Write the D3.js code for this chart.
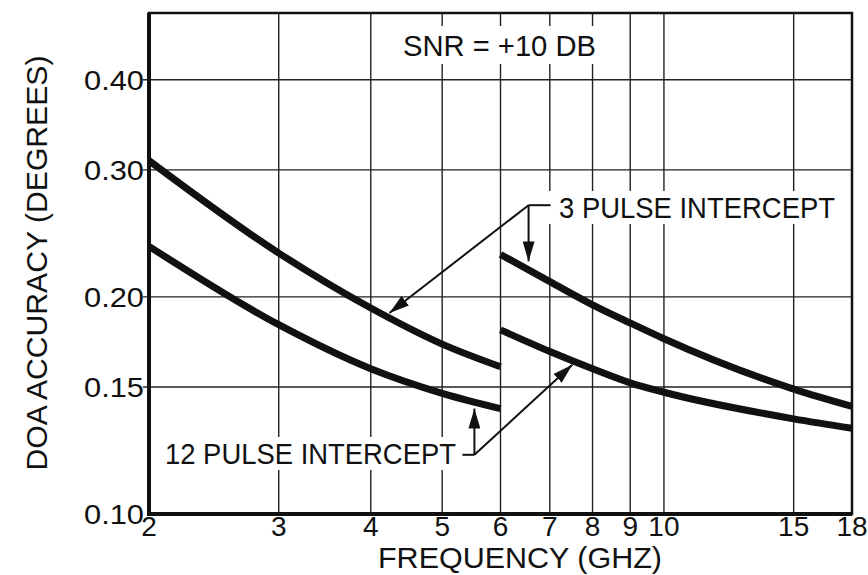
<!DOCTYPE html>
<html>
<head>
<meta charset="utf-8">
<script src="https://cdn.jsdelivr.net/npm/d3@7"></script>
<style>
  body { margin: 0; background: #fff; }
  svg text { font-family: "Liberation Sans", "DejaVu Sans", sans-serif; fill: #111; }
</style>
</head>
<body>
<svg id="chart"></svg>
<script>
// values (log-log axes)
const xTicks = [2, 3, 4, 5, 6, 7, 8, 9, 10, 15, 18];
const yTicks = [0.10, 0.15, 0.20, 0.30, 0.40];
const yTickLabels = ['0.10', '0.15', '0.20', '0.30', '0.40'];

const freqLow = [2, 3, 4, 5, 6];
const pulse3Low = [0.309, 0.230, 0.193, 0.172, 0.160];
const pulse12Low = [0.235, 0.183, 0.159, 0.147, 0.140];

const freqHigh = [6, 7, 8, 9, 10, 15, 18];
const pulse3High = [0.229, 0.210, 0.195, 0.184, 0.175, 0.149, 0.141];
const pulse12High = [0.180, 0.168, 0.159, 0.152, 0.1475, 0.1355, 0.1315];

// annotation anchors in data units
const label3 = { text: '3 PULSE INTERCEPT', elbow: [6.55, 0.268], tips: [[4.24, 0.190], [6.55, 0.224]] };
const label12 = { text: '12 PULSE INTERCEPT', elbow: [5.53, 0.1208], tips: [[5.53, 0.140], [7.51, 0.161]] };

const W = 868, H = 575;
const svg = d3.select('#chart').attr('width', W).attr('height', H);

const x = d3.scaleLog().domain([2, 18]).range([149, 852]);
const y = d3.scaleLog().domain([0.1, 0.495]).range([514, 13]);

// arrowhead marker
svg.append('defs').append('marker')
    .attr('id', 'arrow')
    .attr('viewBox', '0 -6 20 12')
    .attr('refX', 20)
    .attr('refY', 0)
    .attr('markerUnits', 'userSpaceOnUse')
    .attr('markerWidth', 20)
    .attr('markerHeight', 12)
    .attr('orient', 'auto')
    .append('path')
    .attr('d', 'M0,-6 L20,0 L0,6 Z')
    .attr('fill', '#111');

// grid
const grid = svg.append('g').attr('stroke', '#222').attr('stroke-width', 1.4);
grid.selectAll('line.v')
    .data(xTicks.slice(1, -1))
    .enter().append('line')
    .attr('x1', d => x(d)).attr('x2', d => x(d))
    .attr('y1', y.range()[0]).attr('y2', y.range()[1]);
grid.selectAll('line.h')
    .data(yTicks.slice(1))
    .enter().append('line')
    .attr('y1', d => y(d)).attr('y2', d => y(d))
    .attr('x1', x.range()[0] - 6).attr('x2', x.range()[1]);

// frame: heavier left and bottom edges
svg.append('rect')
    .attr('x', x.range()[0]).attr('y', y.range()[1])
    .attr('width', x.range()[1] - x.range()[0])
    .attr('height', y.range()[0] - y.range()[1])
    .attr('fill', 'none').attr('stroke', '#111').attr('stroke-width', 2.5);
svg.append('path')
    .attr('d', `M${x.range()[0]},${y.range()[1]} V${y.range()[0]} H${x.range()[1]}`)
    .attr('fill', 'none').attr('stroke', '#111').attr('stroke-width', 4);

// white boxes that break the grid behind the labels
function box(x0, y0, x1, y1) {
    svg.append('rect')
        .attr('x', x0).attr('y', y0)
        .attr('width', x1 - x0).attr('height', y1 - y0)
        .attr('fill', '#fff');
}
box(396, 26, 602, 64);
box(548, 191, 842, 224);
box(158, 437, 464, 470);

// curves
const line = d3.line()
    .x(d => x(d[0]))
    .y(d => y(d[1]))
    .curve(d3.curveMonotoneX);

const curves = [
    d3.zip(freqLow, pulse3Low),
    d3.zip(freqLow, pulse12Low),
    d3.zip(freqHigh, pulse3High),
    d3.zip(freqHigh, pulse12High)
];
svg.append('g').selectAll('path')
    .data(curves)
    .enter().append('path')
    .attr('d', line)
    .attr('fill', 'none')
    .attr('stroke', '#111')
    .attr('stroke-width', 7);

// leader lines with arrows
[label3, label12].forEach(lab => {
    const ex = x(lab.elbow[0]), ey = y(lab.elbow[1]);
    lab.tips.forEach(t => {
        svg.append('line')
            .attr('x1', ex).attr('y1', ey)
            .attr('x2', x(t[0])).attr('y2', y(t[1]))
            .attr('stroke', '#111').attr('stroke-width', 2)
            .attr('marker-end', 'url(#arrow)');
    });
});
// short horizontal stubs into the labels
svg.append('line')
    .attr('x1', x(label3.elbow[0])).attr('x2', x(label3.elbow[0]) + 22)
    .attr('y1', y(label3.elbow[1])).attr('y2', y(label3.elbow[1]))
    .attr('stroke', '#111').attr('stroke-width', 2);
svg.append('line')
    .attr('x1', x(label12.elbow[0]) - 12).attr('x2', x(label12.elbow[0]))
    .attr('y1', y(label12.elbow[1])).attr('y2', y(label12.elbow[1]))
    .attr('stroke', '#111').attr('stroke-width', 2);

// annotation text
svg.append('text')
    .attr('x', 403).attr('y', 56)
    .attr('font-size', 30)
    .attr('textLength', 193).attr('lengthAdjust', 'spacingAndGlyphs')
    .text('SNR = +10 DB');
svg.append('text')
    .attr('x', 559).attr('y', 218)
    .attr('font-size', 29)
    .attr('textLength', 276).attr('lengthAdjust', 'spacingAndGlyphs')
    .text(label3.text);
svg.append('text')
    .attr('x', 165).attr('y', 464)
    .attr('font-size', 29)
    .attr('textLength', 291).attr('lengthAdjust', 'spacingAndGlyphs')
    .text(label12.text);

// tick labels
svg.append('g').selectAll('text')
    .data(xTicks)
    .enter().append('text')
    .attr('x', d => x(d))
    .attr('y', 536)
    .attr('text-anchor', 'middle')
    .attr('font-size', 28)
    .text(d => d);

svg.append('g').selectAll('text')
    .data(yTicks)
    .enter().append('text')
    .attr('x', 144)
    .attr('y', d => y(d) + 10)
    .attr('text-anchor', 'end')
    .attr('font-size', 28)
    .attr('textLength', 60).attr('lengthAdjust', 'spacingAndGlyphs')
    .text((d, i) => yTickLabels[i]);

// axis titles
svg.append('text')
    .attr('x', 520).attr('y', 568)
    .attr('text-anchor', 'middle')
    .attr('font-size', 29)
    .attr('textLength', 284).attr('lengthAdjust', 'spacingAndGlyphs')
    .text('FREQUENCY (GHZ)');

svg.append('text')
    .attr('transform', 'translate(47,263) rotate(-90)')
    .attr('text-anchor', 'middle')
    .attr('font-size', 30)
    .attr('textLength', 415).attr('lengthAdjust', 'spacingAndGlyphs')
    .text('DOA ACCURACY (DEGREES)');
</script>
</body>
</html>
